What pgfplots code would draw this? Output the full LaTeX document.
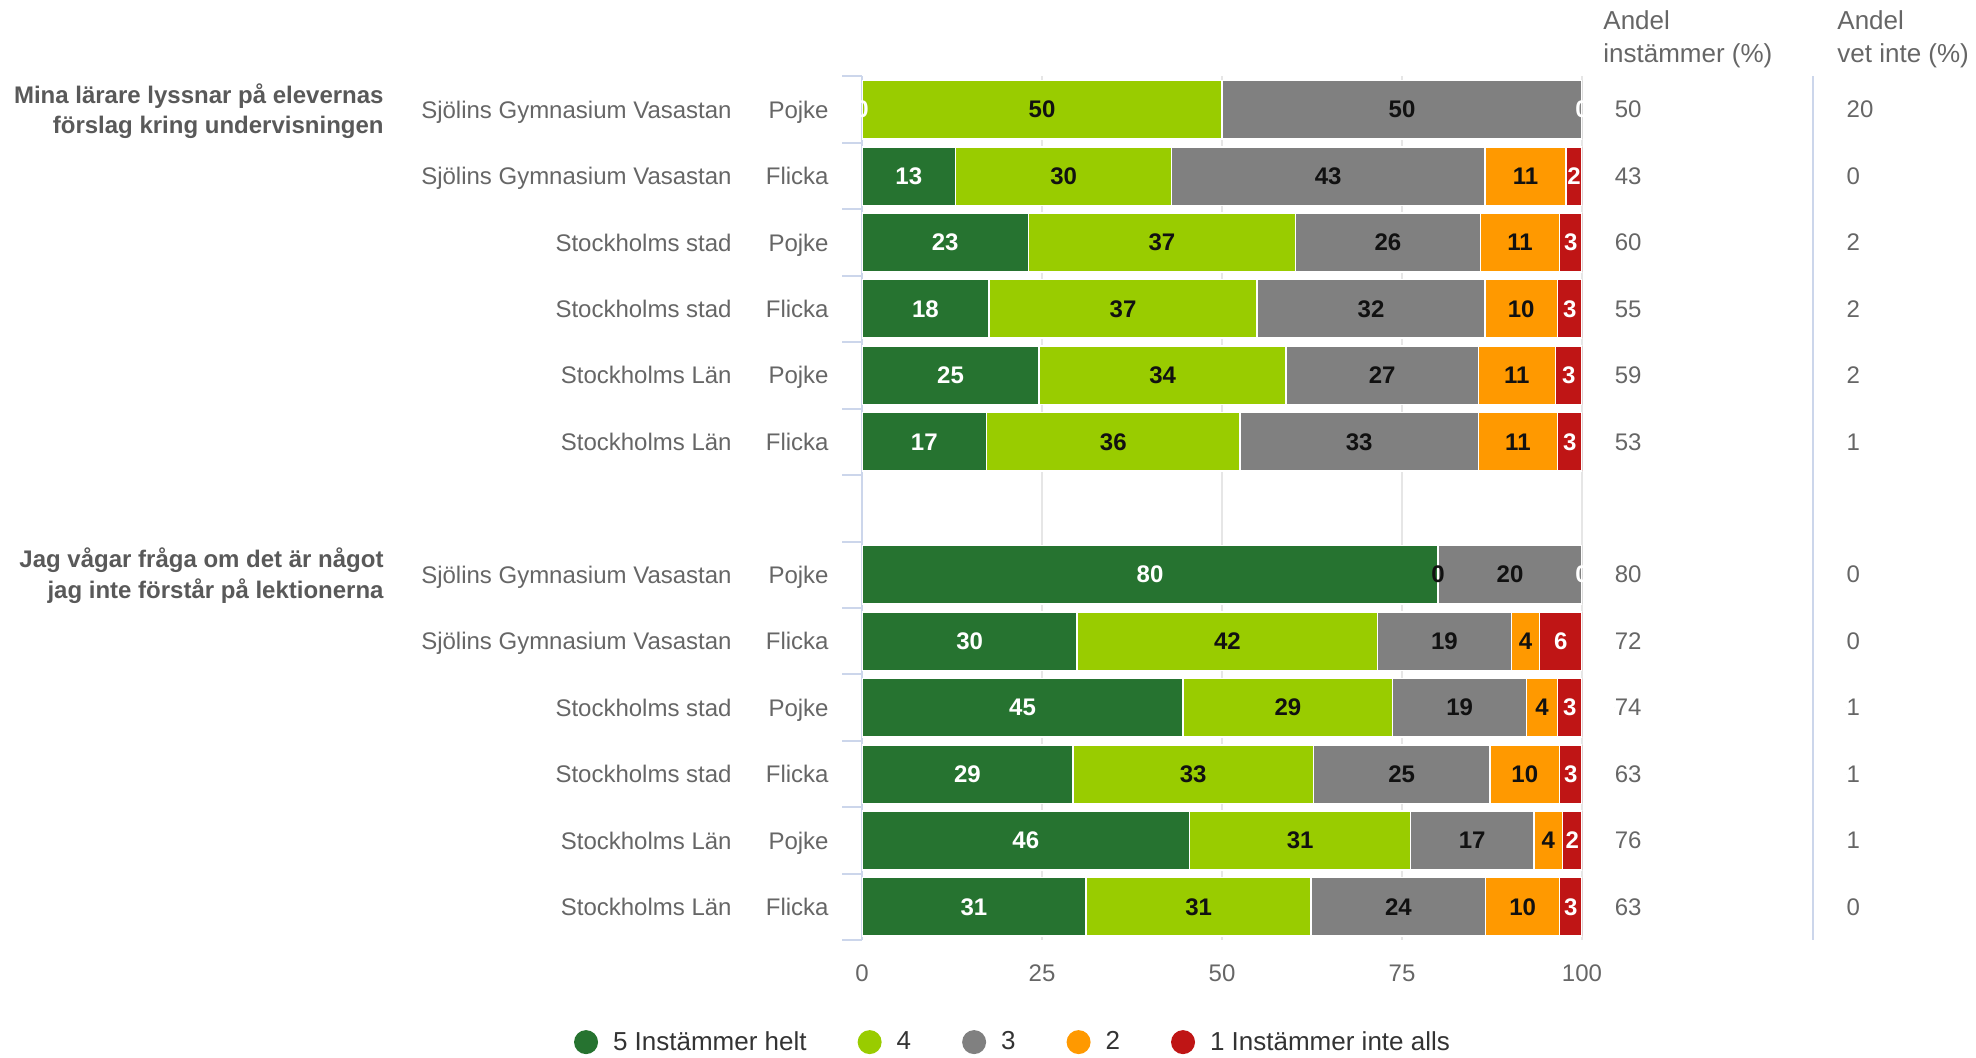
\documentclass[border=0pt]{standalone}
\usepackage{fontspec}
\setmainfont{Liberation Sans}
\usepackage{pgfplots}
\usepackage{pgfplotstable}
\pgfplotsset{compat=1.18}

\definecolor{c5}{HTML}{267330}
\definecolor{c4}{HTML}{99CC00}
\definecolor{c3}{HTML}{808080}
\definecolor{c2}{HTML}{FF9900}
\definecolor{c1}{HTML}{BF1515}
\definecolor{txt}{HTML}{666666}
\definecolor{grp}{HTML}{595959}
\definecolor{legtxt}{HTML}{333333}
\definecolor{axl}{HTML}{CCD6EB}
\definecolor{grd}{HTML}{E6E6E6}
\definecolor{dark}{HTML}{111111}

\newcommand\lab[2]{\llap{#1}\makebox[48.5pt][r]{#2}}
\newcommand\fs{\fontsize{12}{14.4}\selectfont}
\newcommand\fl{\fontsize{13}{16.5}\selectfont}

\pgfplotsset{legimg/.style={legend image code/.code={\fill[draw=none] (6pt,0pt) circle (6pt);}}}

% segment lengths (percent) per row: y position, 5 4 3 2 1
\pgfplotstableread{
y v5 v4 v3 v2 v1
12 0 50 50 0 0
11 13 30 43.5 11.3 2.2
10 23.1 37.1 25.7 11.0 3.1
9 17.6 37.3 31.6 10.1 3.4
8 24.6 34.3 26.7 10.7 3.7
7 17.3 35.2 33.1 11.0 3.4
5 80 0 20 0 0
4 29.9 41.7 18.6 3.9 5.9
3 44.6 29.1 18.6 4.3 3.4
2 29.3 33.4 24.5 9.7 3.1
1 45.5 30.7 17.1 4.0 2.7
0 31.1 31.3 24.2 10.3 3.1
}\bars

% white labels (segments 5 and 1), at segment centres
\pgfplotstableread{
x y lab
0 12 0
100 12 0
6.5 11 13
98.9 11 2
11.55 10 23
98.45 10 3
8.8 9 18
98.3 9 3
12.3 8 25
98.15 8 3
8.65 7 17
98.3 7 3
40 5 80
100 5 0
14.95 4 30
97.05 4 6
22.3 3 45
98.3 3 3
14.65 2 29
98.45 2 3
22.75 1 46
98.65 1 2
15.55 0 31
98.45 0 3
}\wlab

% dark labels (segments 4, 3, 2)
\pgfplotstableread{
x y lab
25 12 50
75 12 50
28 11 30
64.75 11 43
92.15 11 11
41.65 10 37
73.05 10 26
91.4 10 11
36.25 9 37
70.7 9 32
91.55 9 10
41.75 8 34
72.25 8 27
90.95 8 11
34.9 7 36
69.05 7 33
91.1 7 11
80 5 0
90 5 20
50.75 4 42
80.9 4 19
92.15 4 4
59.15 3 29
83.0 3 19
94.45 3 4
46.0 2 33
74.95 2 25
92.05 2 10
60.85 1 31
84.75 1 17
95.3 1 4
46.75 0 31
74.5 0 24
91.75 0 10
}\dlab

% right-hand columns
\pgfplotstableread{
y ins vet
12 50 20
11 43 0
10 60 2
9 55 2
8 59 2
7 53 1
5 80 0
4 72 0
3 74 1
2 63 1
1 76 1
0 63 0
}\cols

\begin{document}
\begin{tikzpicture}
\path[use as bounding box] (0,0) rectangle (988pt,529pt);
\begin{axis}[
  at={(431pt,58.9pt)}, anchor=south west,
  width=360pt, height=431.9pt, scale only axis,
  xbar stacked, bar width=29.3pt,
  xmin=0, xmax=100, ymin=-0.5, ymax=12.5,
  xtick={0,25,50,75,100},
  ytick={0,1,2,3,4,5,7,8,9,10,11,12},
  yticklabels={\lab{Stockholms Län}{Flicka},\lab{Stockholms Län}{Pojke},\lab{Stockholms stad}{Flicka},\lab{Stockholms stad}{Pojke},\lab{Sjölins Gymnasium Vasastan}{Flicka},\lab{Sjölins Gymnasium Vasastan}{Pojke},\lab{Stockholms Län}{Flicka},\lab{Stockholms Län}{Pojke},\lab{Stockholms stad}{Flicka},\lab{Stockholms stad}{Pojke},\lab{Sjölins Gymnasium Vasastan}{Flicka},\lab{Sjölins Gymnasium Vasastan}{Pojke}},
  minor ytick={-0.5,0.5,...,12.5},
  major tick length=0pt, minor tick length=10pt,
  tick align=outside,
  minor tick style={color=axl, line width=1pt},
  xmajorgrids,
  major grid style={color=grd, line width=1pt},
  axis x line*=bottom, axis y line*=left,
  x axis line style={draw=none},
  y axis line style={color=axl, line width=1pt},
  /pgf/number format/assume math mode=true,
  xticklabel style={anchor=north, inner sep=0pt, yshift=-12pt, font=\fs, text=txt},
  yticklabel style={anchor=base east, inner sep=0pt, xshift=-16.5pt, yshift=-4.3pt, font=\fs, text=txt},
  legend style={draw=none, fill=none, at={(0.2083,-0.118)}, anchor=center,
    legend columns=5, font=\fl, text=legtxt,
    nodes={inner sep=0pt},
    /tikz/every odd column/.append style={column sep=7.5pt},
    /tikz/every even column/.append style={column sep=25.5pt}},
]
\addplot[fill=c5, draw=white, line width=0.8pt, legimg] table[x=v5, y=y]{\bars};
\addlegendentry{5 Instämmer helt}
\addplot[fill=c4, draw=white, line width=0.8pt, legimg] table[x=v4, y=y]{\bars};
\addlegendentry{4}
\addplot[fill=c3, draw=white, line width=0.8pt, legimg] table[x=v3, y=y]{\bars};
\addlegendentry{3}
\addplot[fill=c2, draw=white, line width=0.8pt, legimg] table[x=v2, y=y]{\bars};
\addlegendentry{2}
\addplot[fill=c1, draw=white, line width=0.8pt, legimg] table[x=v1, y=y]{\bars};
\addlegendentry{1 Instämmer inte alls}
\end{axis}

\begin{axis}[
  at={(431pt,58.9pt)}, anchor=south west,
  width=360pt, height=431.9pt, scale only axis,
  xmin=0, xmax=100, ymin=-0.5, ymax=12.5, hide axis, clip=false]
\addplot[only marks, mark=*, mark size=0pt, mark options={draw=none, fill=none},
  point meta=explicit symbolic, nodes near coords, nodes near coords align={center},
  every node near coord/.append style={inner sep=0pt, font=\bfseries\fs, text=white}]
  table[x=x, y=y, meta=lab]{\wlab};
\addplot[only marks, mark=*, mark size=0pt, mark options={draw=none, fill=none},
  point meta=explicit symbolic, nodes near coords, nodes near coords align={center},
  every node near coord/.append style={inner sep=0pt, font=\bfseries\fs, text=dark}]
  table[x=x, y=y, meta=lab]{\dlab};
\addplot[only marks, mark=*, mark size=0pt, mark options={draw=none, fill=none},
  point meta=explicit symbolic, nodes near coords, nodes near coords align={west},
  every node near coord/.append style={inner sep=0pt, font=\fs, text=txt}]
  table[x expr=104.5, y=y, meta=ins]{\cols};
\addplot[only marks, mark=*, mark size=0pt, mark options={draw=none, fill=none},
  point meta=explicit symbolic, nodes near coords, nodes near coords align={west},
  every node near coord/.append style={inner sep=0pt, font=\fs, text=txt}]
  table[x expr=136.7, y=y, meta=vet]{\cols};
\draw[color=axl, line width=1pt] (axis cs:132.1,12.5) -- (axis cs:132.1,-0.5);
\end{axis}

\node[anchor=base west, inner sep=0pt, font=\fl, text=txt] at (801.5pt,514.4pt) {Andel};
\node[anchor=base west, inner sep=0pt, font=\fl, text=txt] at (801.5pt,497.9pt) {instämmer (\%)};
\node[anchor=base west, inner sep=0pt, font=\fl, text=txt] at (918.5pt,514.4pt) {Andel};
\node[anchor=base west, inner sep=0pt, font=\fl, text=txt] at (918.5pt,497.9pt) {vet inte (\%)};

\node[anchor=base east, inner sep=0pt, font=\bfseries\fs, text=grp] at (192pt,477.45pt) {Mina lärare lyssnar på elevernas};
\node[anchor=base east, inner sep=0pt, font=\bfseries\fs, text=grp] at (192pt,462.35pt) {förslag kring undervisningen};
\node[anchor=base east, inner sep=0pt, font=\bfseries\fs, text=grp] at (192pt,245.0pt) {Jag vågar fråga om det är något};
\node[anchor=base east, inner sep=0pt, font=\bfseries\fs, text=grp] at (192pt,229.85pt) {jag inte förstår på lektionerna};
\end{tikzpicture}
\end{document}
